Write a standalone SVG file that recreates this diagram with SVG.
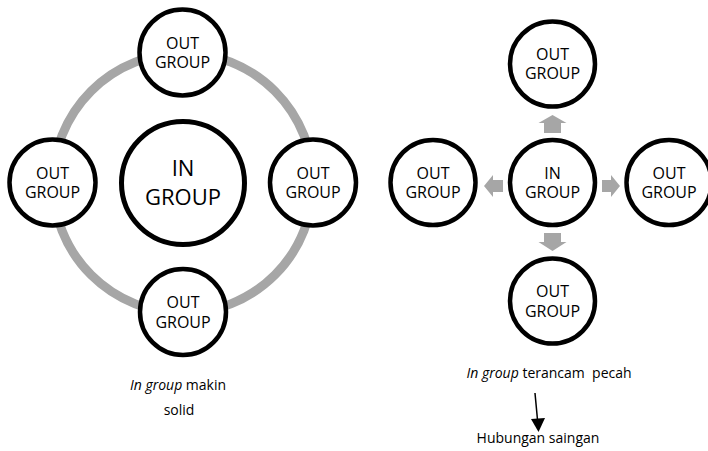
<svg xmlns="http://www.w3.org/2000/svg" width="708" height="451" viewBox="0 0 708 451">
<style>
.node{fill:#fff;stroke:#000;stroke-width:4.5}
.big{fill:#fff;stroke:#000;stroke-width:5}
.lbl{font-family:"Open Sans","Liberation Sans",sans-serif;font-size:16px;fill:#000;text-anchor:middle}
.lblbig{font-family:"Open Sans","Liberation Sans",sans-serif;font-size:22px;fill:#000;text-anchor:middle}
.cap{font-family:"Open Sans","Liberation Sans",sans-serif;font-size:14px;fill:#000;text-anchor:middle}
.garrow{fill:#a6a6a6}
</style>
<rect width="708" height="451" fill="#fff"/>
<g id="connectors">
  <circle cx="183" cy="183" r="130" fill="none" stroke="#a6a6a6" stroke-width="9"/>
  <polygon class="garrow" points="552.5,115 566.5,123 561,123 561,133 544,133 544,123 538.5,123"/>
  <polygon class="garrow" points="552.5,251 566.5,242 561,242 561,233 544,233 544,242 538.5,242"/>
  <polygon class="garrow" points="484,186 493,175 493,180 503,180 503,192 493,192 493,197"/>
  <polygon class="garrow" points="620,186 611,175 611,180 602,180 602,192 611,192 611,197"/>
  <line x1="535" y1="393" x2="537.5" y2="420" stroke="#000" stroke-width="1.5"/>
  <polygon points="531,419 545,418 538.5,432" fill="#000"/>
</g>
<g id="in-left">
  <circle class="big" cx="183" cy="183" r="61.5"/>
  <text class="lblbig" x="183" y="176">IN</text>
  <text class="lblbig" x="183" y="205">GROUP</text>
</g>
<g id="out-top-left">
  <circle class="node" cx="182.5" cy="52.5" r="43"/>
  <text class="lbl" x="182.5" y="49">OUT</text>
  <text class="lbl" x="182.5" y="68">GROUP</text>
</g>
<g id="out-left-left">
  <circle class="node" cx="52.5" cy="182.5" r="43"/>
  <text class="lbl" x="52.5" y="179">OUT</text>
  <text class="lbl" x="52.5" y="198">GROUP</text>
</g>
<g id="out-right-left">
  <circle class="node" cx="313" cy="182.5" r="43"/>
  <text class="lbl" x="313" y="179">OUT</text>
  <text class="lbl" x="313" y="198">GROUP</text>
</g>
<g id="out-bottom-left">
  <circle class="node" cx="183" cy="312" r="43"/>
  <text class="lbl" x="183" y="308">OUT</text>
  <text class="lbl" x="183" y="328">GROUP</text>
</g>
<g id="in-right">
  <circle class="node" cx="552.5" cy="182.5" r="42.5"/>
  <text class="lbl" x="552.5" y="179">IN</text>
  <text class="lbl" x="552.5" y="198">GROUP</text>
</g>
<g id="out-top-right">
  <circle class="node" cx="552.5" cy="64" r="42.5"/>
  <text class="lbl" x="552.5" y="60">OUT</text>
  <text class="lbl" x="552.5" y="79">GROUP</text>
</g>
<g id="out-left-right">
  <circle class="node" cx="433" cy="182.5" r="42.5"/>
  <text class="lbl" x="433" y="179">OUT</text>
  <text class="lbl" x="433" y="198">GROUP</text>
</g>
<g id="out-right-right">
  <circle class="node" cx="669" cy="182.5" r="42.5"/>
  <text class="lbl" x="669" y="179">OUT</text>
  <text class="lbl" x="669" y="198">GROUP</text>
</g>
<g id="out-bottom-right">
  <circle class="node" cx="552.5" cy="301" r="42.5"/>
  <text class="lbl" x="552.5" y="297">OUT</text>
  <text class="lbl" x="552.5" y="317">GROUP</text>
</g>
<g id="captions">
  <text class="cap" x="178" y="390"><tspan font-style="italic">In group</tspan> makin</text>
  <text class="cap" x="179" y="415">solid</text>
  <text class="cap" x="549" y="378" xml:space="preserve"><tspan font-style="italic">In group</tspan> terancam  pecah</text>
  <text class="cap" x="538" y="443">Hubungan saingan</text>
</g>
</svg>
